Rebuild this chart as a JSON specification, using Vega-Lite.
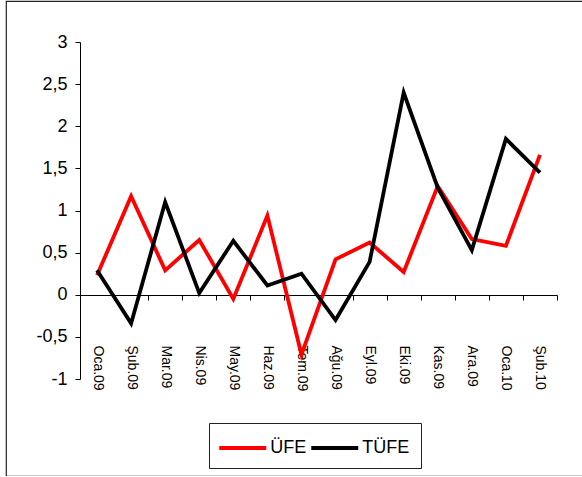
{
  "$schema": "https://vega.github.io/schema/vega-lite/v6.json",
  "autosize": "none",
  "padding": {"left": 6, "top": 1, "right": 0, "bottom": 0},
  "width": 580,
  "height": 475,
  "background": "white",
  "config": {
    "font": "Liberation Sans",
    "view": {"stroke": "#222", "strokeWidth": 1.2}
  },
  "data": {
    "values": [
      {"ay": "Oca.09", "seri": "ÜFE", "deger": 0.23},
      {"ay": "Şub.09", "seri": "ÜFE", "deger": 1.17},
      {"ay": "Mar.09", "seri": "ÜFE", "deger": 0.29},
      {"ay": "Nis.09", "seri": "ÜFE", "deger": 0.65},
      {"ay": "May.09", "seri": "ÜFE", "deger": -0.05},
      {"ay": "Haz.09", "seri": "ÜFE", "deger": 0.94},
      {"ay": "Tem.09", "seri": "ÜFE", "deger": -0.71},
      {"ay": "Ağu.09", "seri": "ÜFE", "deger": 0.42},
      {"ay": "Eyl.09", "seri": "ÜFE", "deger": 0.62},
      {"ay": "Eki.09", "seri": "ÜFE", "deger": 0.27},
      {"ay": "Kas.09", "seri": "ÜFE", "deger": 1.29},
      {"ay": "Ara.09", "seri": "ÜFE", "deger": 0.66},
      {"ay": "Oca.10", "seri": "ÜFE", "deger": 0.58},
      {"ay": "Şub.10", "seri": "ÜFE", "deger": 1.66},
      {"ay": "Oca.09", "seri": "TÜFE", "deger": 0.29},
      {"ay": "Şub.09", "seri": "TÜFE", "deger": -0.34},
      {"ay": "Mar.09", "seri": "TÜFE", "deger": 1.10},
      {"ay": "Nis.09", "seri": "TÜFE", "deger": 0.02},
      {"ay": "May.09", "seri": "TÜFE", "deger": 0.64},
      {"ay": "Haz.09", "seri": "TÜFE", "deger": 0.11},
      {"ay": "Tem.09", "seri": "TÜFE", "deger": 0.25},
      {"ay": "Ağu.09", "seri": "TÜFE", "deger": -0.30},
      {"ay": "Eyl.09", "seri": "TÜFE", "deger": 0.39},
      {"ay": "Eki.09", "seri": "TÜFE", "deger": 2.40},
      {"ay": "Kas.09", "seri": "TÜFE", "deger": 1.27},
      {"ay": "Ara.09", "seri": "TÜFE", "deger": 0.53},
      {"ay": "Oca.10", "seri": "TÜFE", "deger": 1.85},
      {"ay": "Şub.10", "seri": "TÜFE", "deger": 1.45}
    ]
  },
  "mark": {"type": "line", "strokeWidth": 3.8, "strokeCap": "butt"},
  "encoding": {
    "x": {
      "field": "ay",
      "type": "ordinal",
      "sort": null,
      "scale": {"type": "band", "range": [74, 551], "paddingInner": 0, "paddingOuter": 0},
      "axis": {
        "title": null,
        "orient": "bottom",
        "offset": -181,
        "domainColor": "black",
        "domainWidth": 1,
        "tickBand": "extent",
        "tickColor": "black",
        "tickSize": 5,
        "labelAngle": 90,
        "labelAlign": "left",
        "labelBaseline": "middle",
        "labelPadding": 45,
        "labelFontSize": 14,
        "labelColor": "black",
        "labelFont": "Liberation Sans"
      }
    },
    "y": {
      "field": "deger",
      "type": "quantitative",
      "scale": {"domain": [-1, 3], "range": [378, 41], "nice": false, "zero": false},
      "axis": {
        "title": null,
        "orient": "left",
        "offset": -74,
        "values": [-1, -0.5, 0, 0.5, 1, 1.5, 2, 2.5, 3],
        "labelExpr": "replace(toString(datum.value), '.', ',')",
        "grid": false,
        "domainColor": "black",
        "domainWidth": 1,
        "tickColor": "black",
        "tickSize": 5,
        "labelPadding": 8,
        "labelFontSize": 18,
        "labelColor": "black",
        "labelFont": "Liberation Sans"
      }
    },
    "color": {
      "field": "seri",
      "type": "nominal",
      "sort": ["ÜFE", "TÜFE"],
      "scale": {"domain": ["ÜFE", "TÜFE"], "range": ["#FF0000", "#000000"]},
      "legend": {
        "title": null,
        "orient": "none",
        "legendX": 203,
        "legendY": 422,
        "direction": "horizontal",
        "symbolType": "M-2,0H2",
        "symbolSize": 552,
        "symbolStrokeWidth": 4,
        "symbolOffset": 8.75,
        "labelFontSize": 18,
        "labelColor": "black",
        "labelFont": "Liberation Sans",
        "labelOffset": 13.5,
        "columnPadding": -4,
        "padding": 11,
        "strokeColor": "#222",
        "fillColor": "white"
      }
    }
  }
}
